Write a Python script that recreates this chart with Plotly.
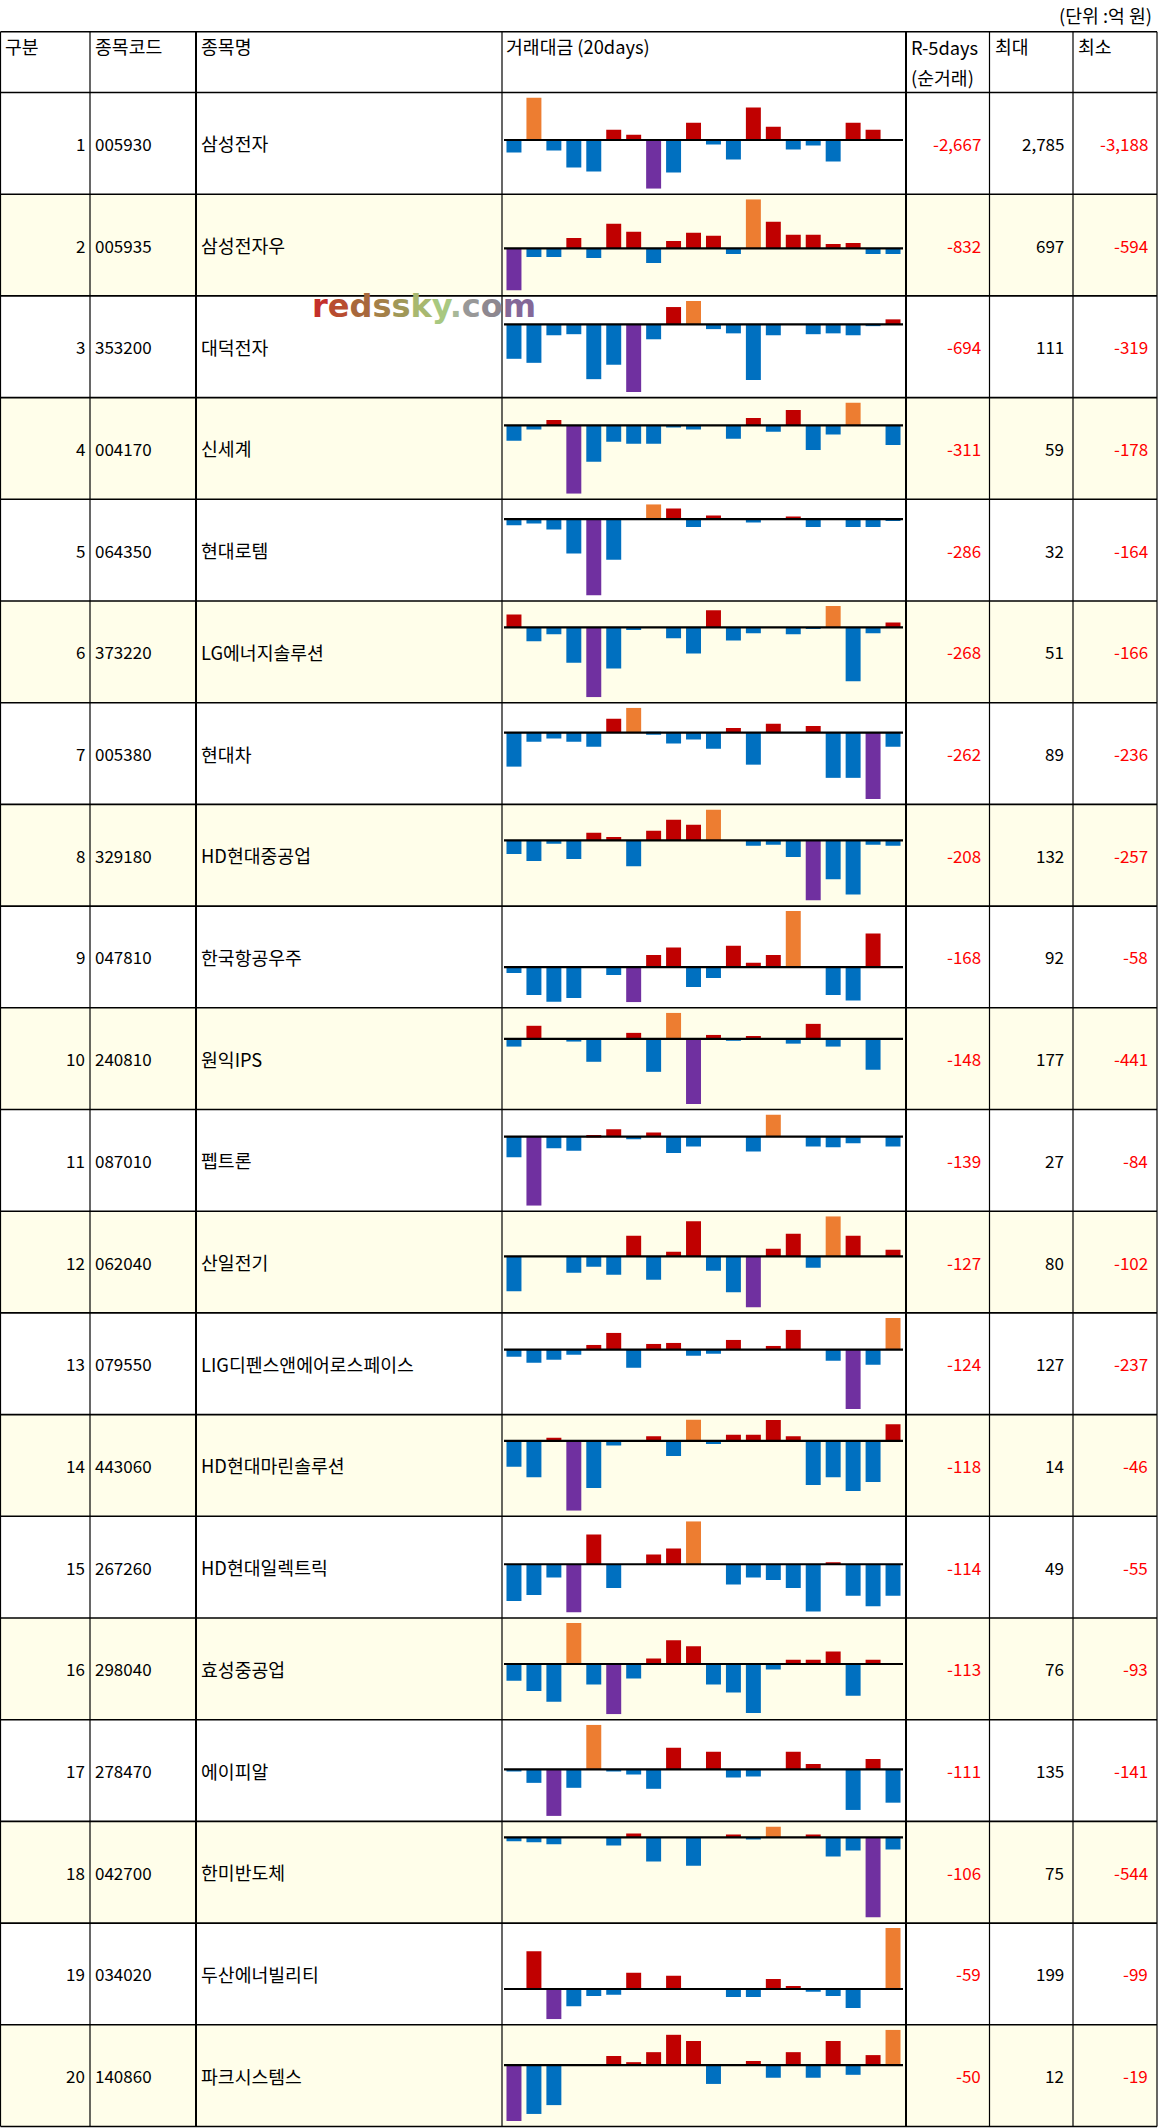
import plotly.graph_objects as go

W, H = 1158, 2128
FONT = "Noto Sans CJK KR"

# 표 데이터 (단위: 억 원)
ranks = list(range(1, 21))
codes = ['005930', '005935', '353200', '004170', '064350', '373220', '005380', '329180', '047810', '240810',
         '087010', '062040', '079550', '443060', '267260', '298040', '278470', '042700', '034020', '140860']
names = ['삼성전자', '삼성전자우', '대덕전자', '신세계', '현대로템', 'LG에너지솔루션', '현대차', 'HD현대중공업',
         '한국항공우주', '원익IPS', '펩트론', '산일전기', 'LIG디펜스앤에어로스페이스', 'HD현대마린솔루션',
         'HD현대일렉트릭', '효성중공업', '에이피알', '한미반도체', '두산에너빌리티', '파크시스템스']
r5days = [-2667, -832, -694, -311, -286, -268, -262, -208, -168, -148,
          -139, -127, -124, -118, -114, -113, -111, -106, -59, -50]
max_vals = [2785, 697, 111, 59, 32, 51, 89, 132, 92, 177, 27, 80, 127, 14, 49, 76, 135, 75, 199, 12]
min_vals = [-3188, -594, -319, -178, -164, -166, -236, -257, -58, -441,
            -84, -102, -237, -46, -55, -93, -141, -544, -99, -19]

days = list(range(20))

# 20일 순거래대금
d005930 = [-817, 2785, -685, -1801, -2065, 676, 347, -3188, -2134, 1137, -286, -1278, 2126, 874, -620, -356, -1410, 1137, 676, 0]
d005935 = [-594, -120, -120, 149, -134, 350, 235, -206, 106, 221, 178, -77, 697, 379, 192, 192, 62, 77, -77, -77]
d353200 = [-162, -181, -51, -46, -258, -190, -319, -70, 82, 111, -22, -42, -262, -51, 0, -46, -42, -51, -8, 24]
d004170 = [-40, -11, 14, -178, -95, -43, -48, -48, -6, -11, 0, -35, 19, -17, 40, -64, -24, 59, 0, -51]
d064350 = [-13, -9, -22, -74, -164, -87, 0, 32, 23, -17, 8, 0, -7, 0, 6, -17, 0, -17, -17, -4]
d373220 = [31, -33, -16, -84, -166, -98, -6, 0, -26, -62, 41, -31, -14, 0, -16, -4, 51, -128, -14, 12]
d005380 = [-121, -32, -21, -32, -50, 50, 89, -7, -39, -24, -57, 17, -114, 32, 0, 24, -161, -161, -236, -50]
d329180 = [-58, -88, -14, -80, 32, 14, -110, 41, 88, 67, 132, 0, -23, -19, -71, -257, -166, -231, -19, -23]
d047810 = [-10, -46, -57, -51, 0, -13, -58, 20, 32, -33, -18, 35, 7, 20, 92, 0, -46, -55, 55, 0]
d240810 = [-52, 89, 0, -18, -155, 0, 41, -223, 177, -441, 27, -11, 20, 0, -32, 102, -52, 0, -209, 0]
d087010 = [-25, -84, -14, -17, 2, 9, -3, 5, -20, -12, 0, 0, -18, 27, 0, -12, -13, -8, 0, -12]
d062040 = [-70, 0, 0, -33, -21, -37, 41, -47, 9, 70, -29, -72, -102, 15, 45, -23, 80, 41, 0, 13]
d079550 = [-28, -52, -40, -20, 19, 67, -72, 23, 27, -24, -16, 39, 0, 15, 79, 0, -44, -237, -60, 127]
d443060 = [-17, -24, 2, -46, -31, -3, 0, 3, -10, 14, -2, 4, 4, 13.7, 3, -29, -24, -33, -27, 11]
d267260 = [-42, -35, -15, -55, 34, -27, 0, 11, 18, 49, 0, -23, -15, -18, -27, -54, 2, -36, -48, -36]
d298040 = [-31, -50, -70, 76, -38, -93, -27, 10, 44, 33, -38, -53, -91, -10, 8, 8, 23, -59, 8, 0]
d278470 = [-7, -41, -141, -56, 135, -7, -16, -59, 65, 0, 53, -25, -22, 0, 53, 16, 0, -123, 31, -101]
d042700 = [-26, -33, -47, 0, 0, -54, 27, -164, 0, -192, 0, 20, -12, 75, 0, 20, -130, -88, -544, -81]
d034020 = [0, 123, -99, -56, -23, -19, 53, 0, 43, 0, 0, -26, -26, 33, 10, -9, -23, -62, 0, 199]
d140860 = [-19, -16.6, -13.6, 0, 0, 3.1, 1.0, 4.4, 10.3, 8.2, -6.4, 0, 1.4, -4.3, 4.4, -4.3, 8.2, -3.3, 3.4, 12]

series = [d005930, d005935, d353200, d004170, d064350, d373220, d005380, d329180, d047810, d240810,
          d087010, d062040, d079550, d443060, d267260, d298040, d278470, d042700, d034020, d140860]

# 색상
BLUE, RED, ORANGE, PURPLE = '#0070C0', '#C00000', '#ED7D31', '#7030A0'
YELLOW = '#FFFEEA'

# 표 위치 (px)
HEAD_TOP, HEAD_BOT = 31.7, 92.5
ROW_H = 101.7
COL_X = [0.5, 90, 196, 502, 906, 989.5, 1073, 1157]
SPARK_X0, SPARK_X1 = 504, 903
NUM_SIZE, TXT_SIZE = 17, 18.3


def px(x):
    return x / W


def py(y):
    return 1 - y / H


shapes = []
annotations = []
axes = {}


def label(text, x, y, anchor, color='black', size=NUM_SIZE):
    annotations.append(dict(text=text, x=px(x), y=py(y), xref='paper', yref='paper',
                            xanchor=anchor, yanchor='middle', showarrow=False,
                            font=dict(family=FONT, size=size, color=color)))


fig = go.Figure()

for i in range(20):
    top = HEAD_BOT + ROW_H * i
    bot = top + ROW_H
    mid = (top + bot) / 2
    if i % 2 == 1:
        shapes.append(dict(type='rect', xref='paper', yref='paper', x0=px(COL_X[0]), x1=px(COL_X[-1]),
                           y0=py(bot), y1=py(top), fillcolor=YELLOW, line_width=0, layer='below'))

    vals = series[i]
    vmax, vmin = max(vals), min(vals)
    imax, imin = vals.index(vmax), vals.index(vmin)
    colors = []
    for k, v in enumerate(vals):
        if k == imax:
            colors.append(ORANGE)
        elif k == imin:
            colors.append(PURPLE)
        elif v >= 0:
            colors.append(RED)
        else:
            colors.append(BLUE)

    n = '' if i == 0 else str(i + 1)
    fig.add_trace(go.Bar(x=days, y=vals, marker=dict(color=colors, line=dict(width=0)),
                         xaxis='x' + n, yaxis='y' + n, hoverinfo='skip', showlegend=False))
    axes['xaxis' + n] = dict(domain=[px(SPARK_X0), px(SPARK_X1)], range=[-0.5, 19.5],
                             visible=False, anchor='y' + n, fixedrange=True)
    axes['yaxis' + n] = dict(domain=[py(bot - 5.5), py(top + 5)], range=[vmin, vmax],
                             visible=False, anchor='x' + n, fixedrange=True)
    shapes.append(dict(type='line', xref='x' + n, yref='y' + n, x0=-0.5, x1=19.5, y0=0, y1=0,
                       line=dict(color='black', width=2.2), layer='above'))

    label(str(ranks[i]), 87, mid, 'right')
    label(codes[i], 93, mid, 'left')
    label(names[i], 199, mid, 'left', size=TXT_SIZE)
    for val, xr in ((r5days[i], 983), (max_vals[i], 1066), (min_vals[i], 1150)):
        label(f'{val:,}', xr, mid, 'right', color='#FF0000' if val < 0 else 'black')

# 격자선
for x in COL_X:
    wd = 2 if x in (196, 906) else 1.2
    shapes.append(dict(type='line', xref='paper', yref='paper', x0=px(x), x1=px(x),
                       y0=py(HEAD_TOP), y1=py(HEAD_BOT + ROW_H * 20), line=dict(color='black', width=wd)))
for y in [HEAD_TOP] + [HEAD_BOT + ROW_H * k for k in range(21)]:
    shapes.append(dict(type='line', xref='paper', yref='paper', x0=px(COL_X[0]), x1=px(COL_X[-1]),
                       y0=py(y), y1=py(y), line=dict(color='black', width=1.6)))

# 헤더
label('(단위 :억 원)', 1154, 15, 'right', size=TXT_SIZE)
label('구분', 3, 46, 'left', size=TXT_SIZE)
label('종목코드', 93, 46, 'left', size=TXT_SIZE)
label('종목명', 199, 46, 'left', size=TXT_SIZE)
label('거래대금 (20days)', 504, 46, 'left', size=TXT_SIZE)
label('R-5days', 909, 47, 'left', size=TXT_SIZE)
label('(순거래)', 909, 77, 'left', size=TXT_SIZE)
label('최대', 993, 46, 'left', size=TXT_SIZE)
label('최소', 1076, 46, 'left', size=TXT_SIZE)

# 워터마크
wm_letters = list('redssky.com')
wm_colors = ['#C4302A', '#B84C30', '#A8683C', '#A48048', '#A09858', '#A8B870',
             '#A8C880', '#A8B898', '#989898', '#8E8890', '#846898']
wm_text = ''.join(f'<span style="color:{c}">{ch}</span>' for ch, c in zip(wm_letters, wm_colors))
annotations.append(dict(text='<b>' + wm_text + '</b>', x=px(310), y=py(306), xref='paper', yref='paper',
                        xanchor='left', yanchor='middle', showarrow=False,
                        font=dict(family='DejaVu Sans', size=32)))

fig.update_layout(width=W, height=H, margin=dict(l=0, r=0, t=0, b=0),
                  paper_bgcolor='white', plot_bgcolor='rgba(0,0,0,0)', bargap=0.25,
                  shapes=shapes, annotations=annotations, **axes)

# 페이지 여백 제거, 툴바 숨김
fig.write_html("out.html", config={'displayModeBar': False},
               post_script="document.body.style.margin='0';")
